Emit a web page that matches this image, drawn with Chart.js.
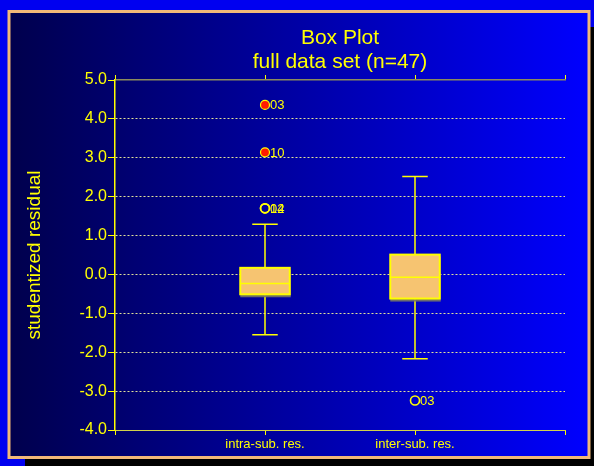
<!DOCTYPE html>
<html>
<head>
<meta charset="utf-8">
<title>Box Plot</title>
<script src="https://cdn.jsdelivr.net/npm/chart.js@4/dist/chart.umd.min.js"></script>
<style>
  html, body { margin: 0; padding: 0; background: #0000f0; }
  canvas { display: block; }
</style>
</head>
<body>
<canvas id="boxChart" width="594" height="466"></canvas>
<script>
const groups = ['intra-sub. res.', 'inter-sub. res.'];
const whiskerLow = [-1.55, -2.17];
const q1 = [-0.51, -0.62];
const median = [-0.23, -0.07];
const q3 = [0.17, 0.51];
const whiskerHigh = [1.29, 2.52];

// outliers: group index, value, case id, far outlier (filled) or not
const outlierGroup = [0, 0, 0, 0, 1];
const outlierValue = [4.36, 3.14, 1.70, 1.70, -3.24];
const outlierId = ['03', '10', '04', '12', '03'];
const outlierFar = [true, true, false, false, false];

const yMin = -4, yMax = 5;

const YELLOW = '#ffff00';
Chart.defaults.font.family = '"Liberation Sans", Arial, sans-serif';
Chart.defaults.color = YELLOW;

function outlierPoints(far) {
  const pts = [];
  outlierValue.forEach((v, i) => {
    if (outlierFar[i] === far) pts.push({ x: outlierGroup[i] + 1, y: v, id: outlierId[i] });
  });
  return pts;
}

// blue page, drop shadow, gradient panel with orange frame
const panelBackground = {
  id: 'panelBackground',
  beforeDraw(chart) {
    const { ctx, width, height } = chart;
    ctx.save();
    ctx.fillStyle = '#0000f0';
    ctx.fillRect(0, 0, width, height);
    ctx.fillStyle = '#000000';
    ctx.fillRect(25, 27, width - 25, height - 27);
    const grad = ctx.createLinearGradient(8, 0, 590, 0);
    grad.addColorStop(0, '#00004c');
    grad.addColorStop(1, '#0000ff');
    ctx.fillStyle = grad;
    ctx.fillRect(8, 10, 582, 449);
    ctx.strokeStyle = '#f2b878';
    ctx.lineWidth = 3;
    ctx.strokeRect(9, 11.5, 580, 446);
    ctx.restore();
  }
};

// boxes, medians and whiskers
const boxes = {
  id: 'boxes',
  beforeDatasetsDraw(chart) {
    const { ctx, scales: { x, y } } = chart;
    ctx.save();
    groups.forEach((g, i) => {
      const c = i + 1;
      const cx = x.getPixelForValue(c);
      const left = x.getPixelForValue(c - 0.165);
      const right = x.getPixelForValue(c + 0.165);
      const capL = x.getPixelForValue(c - 0.085);
      const capR = x.getPixelForValue(c + 0.085);
      const yLo = y.getPixelForValue(whiskerLow[i]);
      const yHi = y.getPixelForValue(whiskerHigh[i]);
      const yQ1 = y.getPixelForValue(q1[i]);
      const yQ3 = y.getPixelForValue(q3[i]);
      const yMed = y.getPixelForValue(median[i]);

      ctx.strokeStyle = YELLOW;
      ctx.lineWidth = 1.5;
      ctx.beginPath();
      ctx.moveTo(cx, yHi); ctx.lineTo(cx, yQ3);
      ctx.moveTo(cx, yQ1); ctx.lineTo(cx, yLo);
      ctx.moveTo(capL, yHi); ctx.lineTo(capR, yHi);
      ctx.moveTo(capL, yLo); ctx.lineTo(capR, yLo);
      ctx.stroke();

      ctx.fillStyle = 'rgba(120,120,100,0.9)';
      ctx.fillRect(left, yQ3 + 2, right - left + 1, yQ1 - yQ3 + 1);
      ctx.fillStyle = '#f6c471';
      ctx.fillRect(left, yQ3, right - left, yQ1 - yQ3);
      ctx.lineWidth = 2;
      ctx.strokeRect(left, yQ3, right - left, yQ1 - yQ3);
      ctx.lineWidth = 1.5;
      ctx.beginPath();
      ctx.moveTo(left, yMed); ctx.lineTo(right, yMed);
      ctx.stroke();
    });
    ctx.restore();
  }
};

// case ids next to each outlier
const outlierIds = {
  id: 'outlierIds',
  afterDatasetsDraw(chart) {
    const { ctx } = chart;
    ctx.save();
    ctx.font = '13px "Liberation Sans", Arial, sans-serif';
    ctx.fillStyle = YELLOW;
    ctx.textAlign = 'left';
    ctx.textBaseline = 'middle';
    chart.data.datasets.forEach((ds, d) => {
      chart.getDatasetMeta(d).data.forEach((pt, j) => {
        ctx.fillText(ds.data[j].id, pt.x + 5, pt.y + 1);
      });
    });
    ctx.restore();
  }
};

new Chart(document.getElementById('boxChart'), {
  type: 'scatter',
  data: {
    datasets: [
      {
        label: 'far outliers',
        data: outlierPoints(true),
        pointRadius: 4.5,
        pointBackgroundColor: '#ff1a00',
        pointBorderColor: YELLOW,
        pointBorderWidth: 1.2
      },
      {
        label: 'outliers',
        data: outlierPoints(false),
        pointRadius: 4.5,
        pointBackgroundColor: 'rgba(0,0,0,0)',
        pointBorderColor: YELLOW,
        pointBorderWidth: 1.6
      }
    ]
  },
  options: {
    responsive: false,
    animation: false,
    layout: { padding: { left: 8, top: 26, right: 29, bottom: 6 } },
    plugins: {
      legend: { display: false },
      tooltip: { enabled: false },
      title: {
        display: true,
        text: ['Box Plot', 'full data set (n=47)'],
        color: YELLOW,
        fullSize: false,
        font: { size: 21, weight: 'normal', lineHeight: 1.15 },
        padding: 0
      }
    },
    scales: {
      x: {
        type: 'linear',
        position: 'bottom',
        min: 0,
        max: 3,
        afterFit: s => { s.height = 30; },
        ticks: {
          stepSize: 1,
          autoSkip: false,
          maxRotation: 0,
          color: YELLOW,
          font: { size: 13 },
          padding: 2,
          callback: v => groups[v - 1] || ''
        },
        grid: { drawOnChartArea: false, tickLength: 5, tickColor: YELLOW, color: YELLOW },
        border: { color: '#d2d24a', width: 1 }
      },
      xTop: {
        type: 'linear',
        position: 'top',
        min: 0,
        max: 3,
        afterFit: s => { s.height = 5.7; },
        ticks: { display: false, stepSize: 1 },
        grid: { drawOnChartArea: false, tickLength: 5, tickColor: YELLOW },
        border: { color: '#8c8c5c', width: 1.5 }
      },
      y: {
        min: yMin,
        max: yMax,
        afterFit: s => { s.width = 107; },
        ticks: {
          stepSize: 1,
          color: YELLOW,
          font: { size: 16 },
          padding: 1,
          callback: v => v.toFixed(1)
        },
        grid: {
          color: c => (c.tick.value > yMin && c.tick.value < yMax) ? '#e2e29a' : 'rgba(0,0,0,0)',
          tickColor: YELLOW,
          tickLength: 7,
          lineWidth: 1
        },
        border: { color: YELLOW, width: 1.5, dash: [2, 2] },
        title: {
          display: true,
          text: 'studentized residual',
          color: YELLOW,
          font: { size: 19 },
          padding: { top: 15, bottom: 0 }
        }
      }
    }
  },
  plugins: [panelBackground, boxes, outlierIds]
});
</script>
</body>
</html>
